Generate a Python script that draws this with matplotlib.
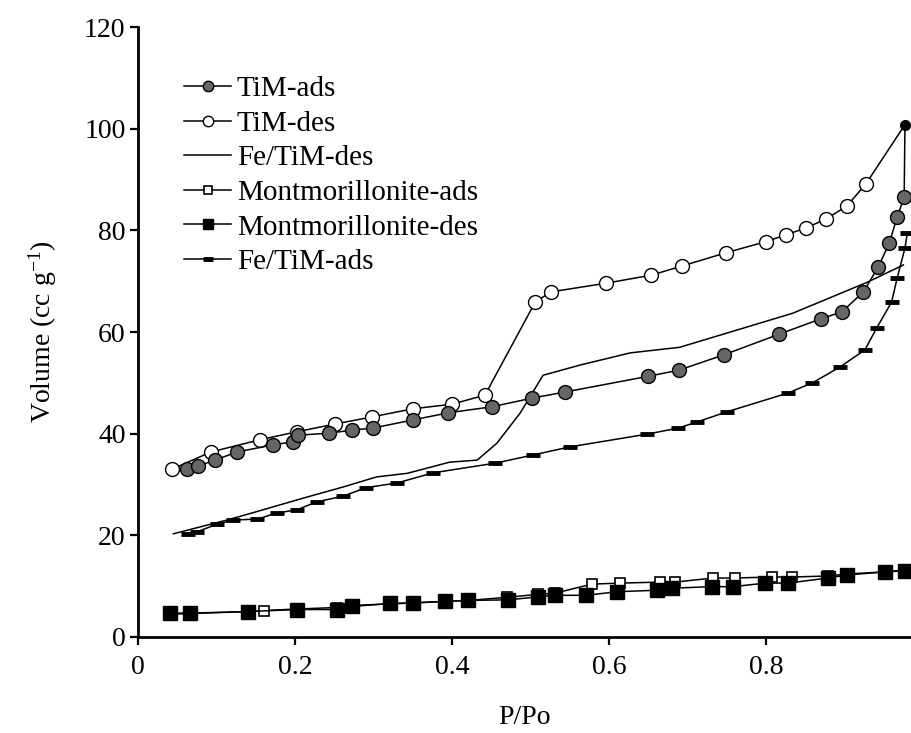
import numpy as np
import matplotlib
matplotlib.use("Agg")
import matplotlib.pyplot as plt

plt.rcParams['font.family'] = ['Liberation Serif', 'DejaVu Serif']
plt.rcParams['mathtext.fontset'] = 'custom'
plt.rcParams['mathtext.rm'] = 'Liberation Serif'
plt.rcParams['mathtext.it'] = 'Liberation Serif:italic'

# N2 isotherm data (P/Po, volume cc/g)
tim_ads_x = [0.062, 0.076, 0.098, 0.126, 0.172, 0.197, 0.204, 0.243, 0.273, 0.299,
             0.350, 0.395, 0.451, 0.502, 0.544, 0.650, 0.689, 0.746, 0.817, 0.870,
             0.897, 0.924, 0.943, 0.957, 0.967, 0.976, 0.977]
tim_ads_y = [33.0, 33.6, 34.8, 36.4, 37.8, 38.4, 39.7, 40.1, 40.7, 41.1,
             42.7, 44.1, 45.3, 47.0, 48.2, 51.3, 52.5, 55.5, 59.6, 62.6,
             64.0, 67.9, 72.8, 77.5, 82.6, 86.6, 100.8]

tim_des_x = [0.977, 0.927, 0.903, 0.876, 0.851, 0.825, 0.800, 0.749, 0.693, 0.654,
             0.596, 0.526, 0.506, 0.442, 0.400, 0.350, 0.298, 0.251, 0.203, 0.155,
             0.093, 0.043]
tim_des_y = [100.8, 89.1, 84.8, 82.2, 80.5, 79.1, 77.8, 75.6, 73.0, 71.2,
             69.6, 67.9, 65.9, 47.6, 45.8, 44.9, 43.3, 41.9, 40.4, 38.8,
             36.4, 33.0]

fe_des_x = [0.975, 0.929, 0.834, 0.690, 0.627, 0.563, 0.516, 0.487, 0.457, 0.432,
            0.397, 0.343, 0.304, 0.261, 0.210, 0.143, 0.113, 0.045]
fe_des_y = [73.2, 69.8, 63.7, 57.0, 55.9, 53.5, 51.5, 44.1, 38.1, 34.8,
            34.4, 32.2, 31.5, 29.5, 27.3, 24.3, 23.0, 20.3]

fe_ads_x = [0.064, 0.075, 0.101, 0.121, 0.152, 0.177, 0.202, 0.228, 0.261, 0.291,
            0.330, 0.376, 0.455, 0.503, 0.550, 0.648, 0.688, 0.712, 0.750, 0.828,
            0.859, 0.894, 0.926, 0.941, 0.960, 0.967, 0.977, 0.980]
fe_ads_y = [20.3, 20.7, 22.2, 23.0, 23.2, 24.4, 25.0, 26.6, 27.7, 29.4,
            30.3, 32.3, 34.2, 35.8, 37.4, 39.9, 41.1, 42.3, 44.3, 48.0,
            50.0, 53.1, 56.5, 60.8, 65.9, 70.6, 76.5, 79.5]

mont_ads_x = [0.041, 0.066, 0.140, 0.160, 0.202, 0.253, 0.272, 0.321, 0.350, 0.391,
              0.421, 0.470, 0.510, 0.531, 0.578, 0.614, 0.665, 0.684, 0.733, 0.760,
              0.807, 0.833, 0.879, 0.903, 0.951, 0.977]
mont_ads_y = [4.5, 4.6, 5.0, 5.2, 5.5, 5.8, 6.2, 6.5, 6.7, 7.0,
              7.2, 7.8, 8.4, 8.6, 10.4, 10.6, 10.8, 10.8, 11.6, 11.6,
              11.8, 11.8, 12.0, 12.4, 12.8, 13.2]

mont_des_x = [0.977, 0.951, 0.903, 0.879, 0.828, 0.799, 0.758, 0.731, 0.680, 0.661,
              0.610, 0.571, 0.531, 0.510, 0.471, 0.421, 0.391, 0.350, 0.321, 0.272,
              0.253, 0.202, 0.140, 0.066, 0.041]
mont_des_y = [13.0, 12.8, 12.2, 11.6, 10.6, 10.6, 9.9, 9.9, 9.6, 9.2,
              8.9, 8.2, 8.2, 7.9, 7.3, 7.2, 7.0, 6.7, 6.6, 6.0,
              5.4, 5.4, 5.0, 4.7, 4.7]

fig = plt.figure(figsize=(9.11, 7.33), dpi=100)
ax = fig.add_axes([0.1515, 0.131, 0.8485, 0.832])

lw = 1.1
n_ads = len(tim_ads_x)
ax.plot(tim_ads_x, tim_ads_y, color='black', lw=lw, marker='o', ms=10,
        mfc='#666666', mec='black', mew=1.0, markevery=list(range(n_ads - 1)),
        label='TiM-ads', zorder=4)
# the turning point at the top is drawn as a small black dot
ax.plot(tim_ads_x[-1:], tim_ads_y[-1:], 'o', color='black', ms=7, zorder=5)
ax.plot(tim_des_x, tim_des_y, color='black', lw=lw, marker='o', ms=10,
        mfc='white', mec='black', mew=1.0, markevery=list(range(1, len(tim_des_x))),
        label='TiM-des', zorder=3)
ax.plot(fe_des_x, fe_des_y, color='black', lw=lw, label='Fe/TiM-des', zorder=3)
ax.plot(mont_ads_x, mont_ads_y, color='black', lw=lw, marker='s', ms=7,
        mfc='white', mec='black', mew=1.2, label='Montmorillonite-ads', zorder=3)
ax.plot(mont_des_x, mont_des_y, color='black', lw=lw, marker='s', ms=10,
        mfc='black', mec='black', label='Montmorillonite-des', zorder=4)
ax.plot(fe_ads_x, fe_ads_y, color='black', lw=lw, marker='_', ms=10,
        mew=3.5, label='Fe/TiM-ads', zorder=3)

ax.set_xlim(0, 0.9847)
ax.set_ylim(0, 120)
ax.set_xticks([0, 0.2, 0.4, 0.6, 0.8])
ax.set_xticklabels(['0', '0.2', '0.4', '0.6', '0.8'])
ax.set_yticks([0, 20, 40, 60, 80, 100, 120])

for s in ['top', 'right']:
    ax.spines[s].set_visible(False)
for s in ['left', 'bottom']:
    ax.spines[s].set_linewidth(2.0)
ax.tick_params(axis='both', direction='out', length=6, width=1.6,
               labelsize=20, colors='black')
ax.tick_params(axis='x', pad=7)
ax.tick_params(axis='y', pad=3)

ax.set_xlabel('P/Po', fontsize=20, labelpad=18)
ax.set_ylabel(r'Volume (cc g$^{\mathregular{-1}}$)', fontsize=20, labelpad=18)

ax.legend(loc='upper left', bbox_to_anchor=(0.06, 0.92), frameon=False,
          fontsize=21, handlelength=1.6, handletextpad=0.2, labelspacing=0.28,
          markerscale=0.75, borderaxespad=0, borderpad=0)

fig.savefig('out.png', dpi=100)
